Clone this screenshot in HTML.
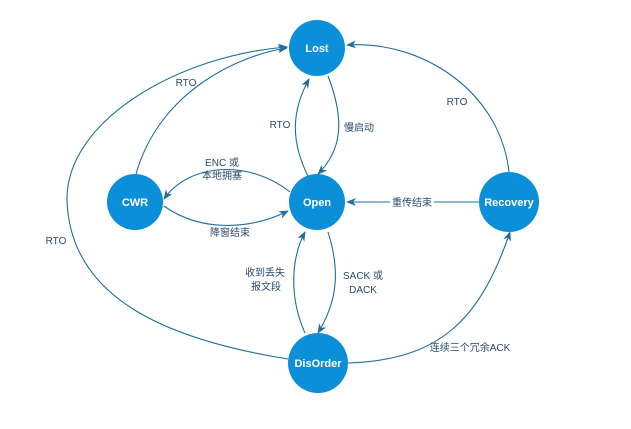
<!DOCTYPE html>
<html><head><meta charset="utf-8"><style>
body{margin:0;background:#fff;width:631px;height:424px;overflow:hidden}
svg{font-family:"Liberation Sans","Noto Sans CJK SC",sans-serif}
</style></head><body>
<svg width="631" height="424" viewBox="0 0 631 424">
<defs><marker id="a" markerWidth="10" markerHeight="8" refX="9" refY="4" orient="auto" markerUnits="userSpaceOnUse">
<path d="M0,0 L10,4 L0,8 L3,4 Z" fill="#1f6e9c"/></marker></defs>
<g fill="none" stroke="#1f6e9c" stroke-width="1.1" marker-end="url(#a)">
<path d="M328 76 C345 120 342 150 318 174"/>
<path d="M308 176 C290 140 292 110 309 79"/>
<path d="M136 174 C160 90 240 55 287 48"/>
<path d="M288 359 C170 340 70 300 67 200 C66 120 180 55 287 47"/>
<path d="M509 172 C500 90 420 40 347 45"/>
<path d="M290 192 C250 160 190 162 164 199"/>
<path d="M164 206 C200 232 250 230 288 211"/>
<path d="M479 202 L347 202"/>
<path d="M328 232 C340 270 338 300 318 333"/>
<path d="M305 333 C290 300 290 260 305 232"/>
<path d="M348 363 C440 360 480 320 510 232"/>
</g>
<rect x="390" y="194" width="44" height="16" fill="#fff"/>
<g fill="#0a8fd8">
<circle cx="317" cy="48" r="28"/><circle cx="317" cy="202" r="28"/>
<circle cx="135" cy="202" r="28"/><circle cx="509" cy="202" r="30"/>
<circle cx="318" cy="363" r="30"/>
</g>
<g fill="#fff" font-size="11" font-weight="bold" text-anchor="middle">
<text x="317" y="52">Lost</text><text x="317" y="206">Open</text>
<text x="135" y="206">CWR</text><text x="509" y="206">Recovery</text>
<text x="318" y="367">DisOrder</text>
</g>
<g fill="#2a4a6a" font-size="10" text-anchor="middle">
<text x="186" y="86">RTO</text>
<text x="280" y="128">RTO</text>
<text x="359" y="131">慢启动</text>
<text x="457" y="105">RTO</text>
<text x="56" y="244">RTO</text>
<text x="222" y="166">ENC 或</text>
<text x="222" y="179">本地拥塞</text>
<text x="230" y="236">降窗结束</text>
<text x="412" y="206">重传结束</text>
<text x="265" y="276">收到丢失</text>
<text x="266" y="290">报文段</text>
<text x="363" y="279">SACK 或</text>
<text x="363" y="293">DACK</text>
<text x="470" y="351">连续三个冗余ACK</text>
</g>
</svg>
</body></html>
